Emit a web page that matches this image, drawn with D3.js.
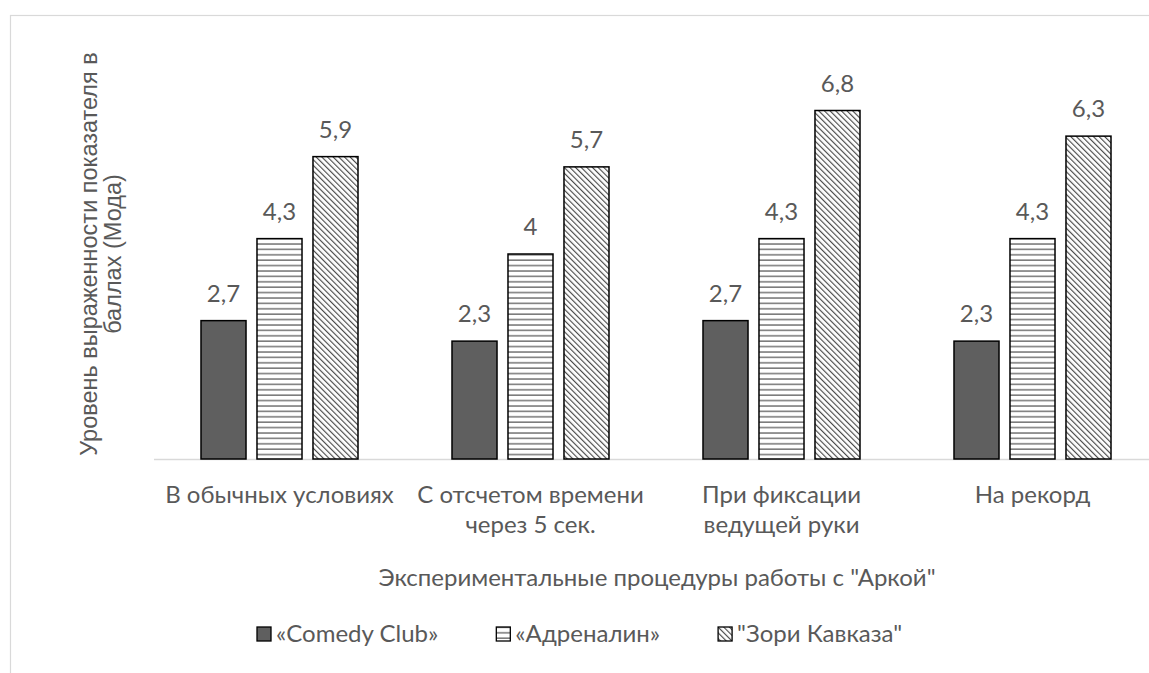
<!DOCTYPE html>
<html lang="ru">
<head>
    <meta charset="UTF-8">
    <title>Эксперимент с "Аркой"</title>
    <script src="https://cdn.jsdelivr.net/npm/d3@7"></script>
    <style>
        body { margin: 0; background: #fff; }
        text { fill: #595959; }
        .lbl { font-family: Lato, "Open Sans", sans-serif; font-size: 24px; }
        .ytitle { font-family: "Liberation Sans", Arial, sans-serif; font-size: 23.5px; }
    </style>
</head>
<body>
<div id="chart"></div>
<script>
    // data
    const categories = [
        ["В обычных условиях"],
        ["С отсчетом времени", "через 5 сек."],
        ["При фиксации", "ведущей руки"],
        ["На рекорд"]
    ];
    const seriesNames = ["«Comedy Club»", "«Адреналин»", "\"Зори Кавказа\""];
    const comedyClub = [2.7, 2.3, 2.7, 2.3];
    const adrenalin = [4.3, 4, 4.3, 4.3];
    const zoriKavkaza = [5.9, 5.7, 6.8, 6.3];
    const yTitle = ["Уровень выраженности показателя в", "баллах (Мода)"];
    const xTitle = "Экспериментальные процедуры работы с \"Аркой\"";

    const W = 1149, H = 673;
    const plot = { left: 154, right: 1158, top: 49, bottom: 459 };

    const svg = d3.select("#chart").append("svg")
        .attr("width", W).attr("height", H);

    // patterns
    const defs = svg.append("defs");
    const ph = defs.append("pattern").attr("id", "horiz")
        .attr("patternUnits", "userSpaceOnUse").attr("width", 8).attr("height", 5.4);
    ph.append("rect").attr("width", 8).attr("height", 5.4).attr("fill", "#fff");
    ph.append("line").attr("x1", 0).attr("x2", 8).attr("y1", 1).attr("y2", 1)
        .attr("stroke", "#6a6a6a").attr("stroke-width", 1.4);

    const pd = defs.append("pattern").attr("id", "diag")
        .attr("patternUnits", "userSpaceOnUse").attr("width", 4).attr("height", 4)
        .attr("patternTransform", "rotate(-45)");
    pd.append("rect").attr("width", 4).attr("height", 4).attr("fill", "#fff");
    pd.append("line").attr("x1", 0).attr("x2", 0).attr("y1", 0).attr("y2", 4)
        .attr("stroke", "#4a4a4a").attr("stroke-width", 2.3);

    const fills = ["#5f5f5f", "url(#horiz)", "url(#diag)"];

    // chart border
    svg.append("rect")
        .attr("x", 10.5).attr("y", 15.5)
        .attr("width", W + 20).attr("height", H + 20)
        .attr("fill", "none").attr("stroke", "#d9d9d9").attr("stroke-width", 1.2);

    const x0 = d3.scaleBand()
        .domain(d3.range(categories.length))
        .range([plot.left, plot.right])
        .paddingInner(0.3745).paddingOuter(0.18725);

    const x1 = d3.scaleBand()
        .domain(d3.range(seriesNames.length))
        .range([0, x0.bandwidth()])
        .paddingInner(0.196);

    const y = d3.scaleLinear().domain([0, 8]).range([plot.bottom, plot.top]);

    // baseline
    svg.append("line")
        .attr("x1", plot.left).attr("x2", plot.right)
        .attr("y1", y(0) + 0.5).attr("y2", y(0) + 0.5)
        .attr("stroke", "#d9d9d9").attr("stroke-width", 1.5);

    const series = [comedyClub, adrenalin, zoriKavkaza];
    const rows = [];
    series.forEach((vals, s) => vals.forEach((v, c) => rows.push({ s, c, v })));

    svg.append("g").selectAll("rect")
        .data(rows).join("rect")
        .attr("x", d => x0(d.c) + x1(d.s))
        .attr("y", d => y(d.v))
        .attr("width", x1.bandwidth())
        .attr("height", d => y(0) - y(d.v))
        .attr("fill", d => fills[d.s])
        .attr("stroke", "#000").attr("stroke-width", 1.5);

    svg.append("g").selectAll("text")
        .data(rows).join("text")
        .attr("class", "lbl")
        .attr("x", d => x0(d.c) + x1(d.s) + x1.bandwidth() / 2)
        .attr("y", d => y(d.v) - 19)
        .attr("text-anchor", "middle")
        .text(d => String(d.v).replace(".", ","));

    // category labels, one text per line
    const cat = svg.append("g").selectAll("g")
        .data(categories).join("g");
    cat.selectAll("text").data((d, i) => d.map(t => ({ t, i }))).join("text")
        .attr("class", "lbl")
        .attr("text-anchor", "middle")
        .attr("x", d => x0(d.i) + x0.bandwidth() / 2)
        .attr("y", (d, j) => 503 + j * 29.5)
        .text(d => d.t);

    // axis titles
    svg.append("text").attr("class", "lbl")
        .attr("x", 657).attr("y", 586)
        .attr("text-anchor", "middle").text(xTitle);

    const yt = svg.append("text").attr("class", "ytitle")
        .attr("transform", `translate(97,${(plot.top + plot.bottom) / 2}) rotate(-90)`)
        .attr("text-anchor", "middle");
    yt.selectAll("tspan").data(yTitle).join("tspan")
        .attr("x", 0).attr("dy", (d, i) => i === 0 ? 0 : 24)
        .text(d => d);

    // legend, laid out from measured text widths
    const leg = svg.append("g").attr("transform", "translate(257,0)");
    const items = leg.selectAll("g").data(seriesNames).join("g");
    items.append("rect")
        .attr("y", 627)
        .attr("width", 14).attr("height", 14)
        .attr("fill", (d, i) => fills[i])
        .attr("stroke", "#000").attr("stroke-width", 1.3);
    items.append("text").attr("class", "lbl")
        .attr("x", 19).attr("y", 642)
        .text(d => d);
    let cx = 0;
    items.each(function () {
        const w = 19 + d3.select(this).select("text").node().getComputedTextLength();
        d3.select(this).attr("transform", `translate(${cx},0)`);
        cx += w + 58;
    });
</script>
</body>
</html>
